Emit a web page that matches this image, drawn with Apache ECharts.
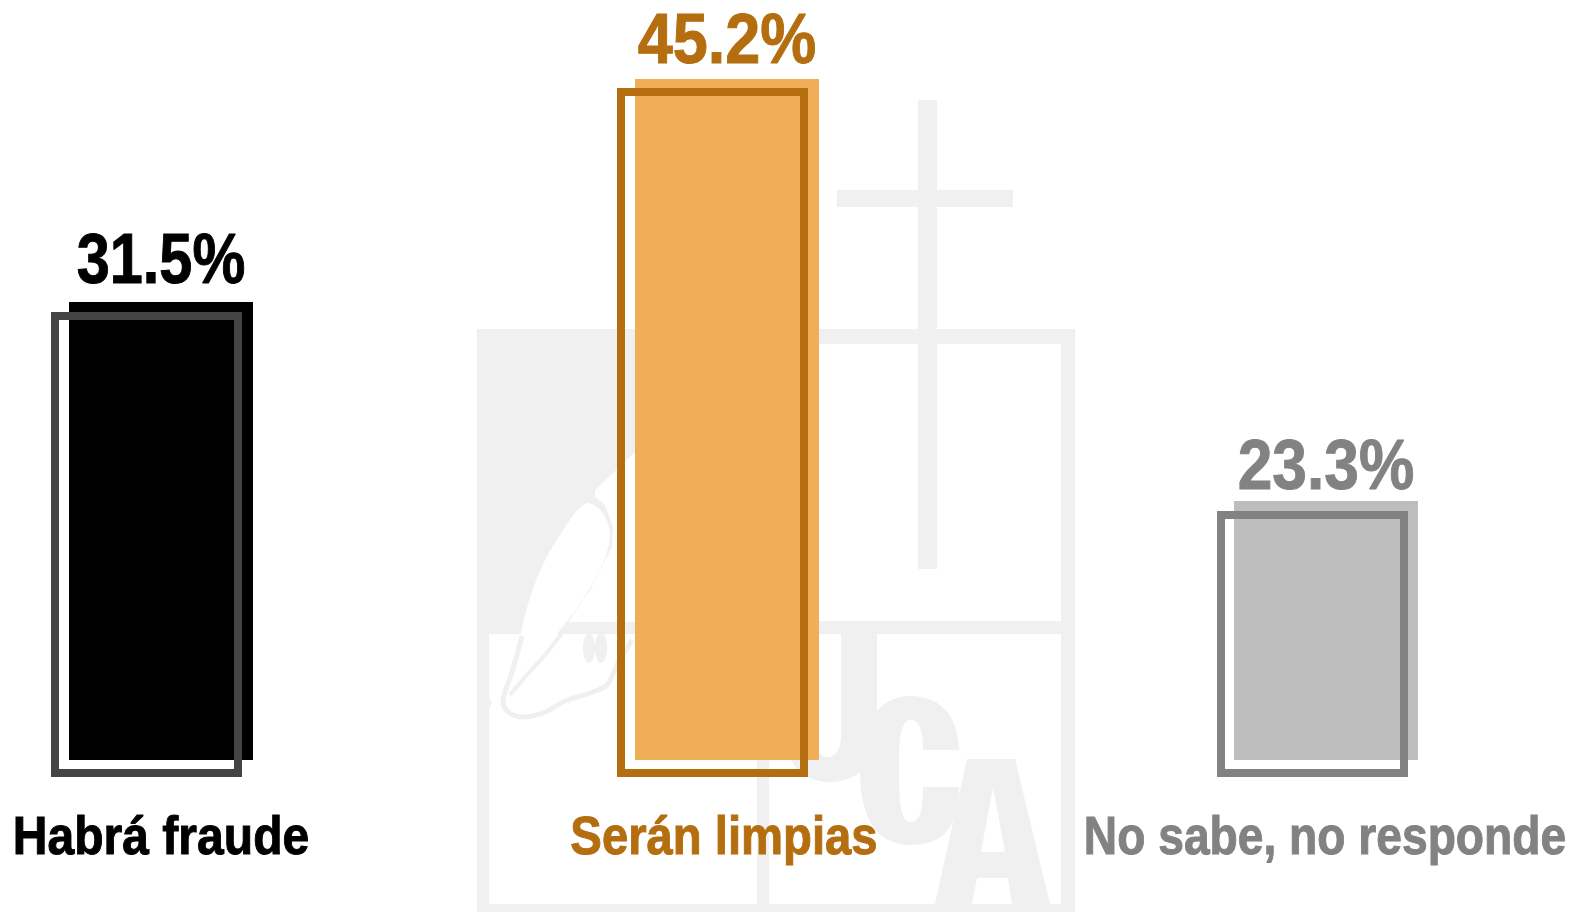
<!DOCTYPE html>
<html lang="es">
<head>
<meta charset="utf-8">
<title>Habrá fraude</title>
<style>html,body{margin:0;padding:0;background:#fff}#chart{width:1572px;height:912px}</style>
<script src="https://cdn.jsdelivr.net/npm/echarts@6/dist/echarts.min.js"></script>
</head>
<body>
<div id="chart"></div>
<script>
// Data
const categories = ['Habrá fraude', 'Serán limpias', 'No sabe, no responde'];
const values = [31.5, 45.2, 23.3];

// Styles
const fillColors = ['#000000', '#f0ae59', '#bdbdbd'];
const strokeColors = ['#444444', '#b46e10', '#828282'];
const textColors = ['#000000', '#b46e10', '#828282'];
const FONT = '"Liberation Sans",Arial,sans-serif';
// The reference face is a condensed bold; it is approximated by squeezing the text.
const valueSqueeze = [0.85, 0.90, 0.89];
const nameSqueeze = [0.89, 0.875, 0.855];

// Layout (bars are not evenly spaced in the reference)
const barCentres = [161, 727, 1326];
const outlineLefts = [-110, -110, -109];
const valueGaps = [3, 0, -4];
const nameOffsets = [0, -3, -1];
const BAR_W = 184, BASE_Y = 760, TOP_Y = 79, PLOT_H = BASE_Y - TOP_Y;
const OUT_W = 191, OUT_TOP = 88, OUT_H = 689, STROKE = 8, NAME_DY = 106;

// The printed percentages and the drawn heights are not proportional in the
// reference; hidden axis breaks reproduce that scale while the data stay true.
const yAxisBase = {
  type: 'value', min: 0, max: 45.2, show: false, splitLine: { show: false },
  breakArea: { show: false }
};
const fillBreaks = [
  { start: 0, end: 23.3, gap: 10.672 },
  { start: 31.5, end: 45.2, gap: 9.189 }
];
const outlineBreaks = [
  { start: 0, end: 23.3, gap: 10.96 },
  { start: 31.5, end: 45.2, gap: 9.23 }
];

const grid = [], xAxis = [], yAxis = [], series = [];
categories.forEach((name, i) => {
  const c = barCentres[i];
  // filled bar
  grid.push({ left: c - BAR_W / 2, width: BAR_W, top: TOP_Y, height: PLOT_H, outerBoundsMode: 'none' });
  xAxis.push({ type: 'category', gridIndex: 2 * i, data: [name], show: false });
  yAxis.push({ ...yAxisBase, breaks: fillBreaks, gridIndex: 2 * i });
  series.push({
    type: 'bar', name, xAxisIndex: 2 * i, yAxisIndex: 2 * i, barWidth: '100%',
    silent: true, z: 2, itemStyle: { color: fillColors[i] },
    data: [values[i]]
  });
  // offset outline
  grid.push({ left: c + outlineLefts[i], width: OUT_W, top: OUT_TOP, height: OUT_H, outerBoundsMode: 'none' });
  xAxis.push({ type: 'category', gridIndex: 2 * i + 1, data: [name], show: false });
  yAxis.push({ ...yAxisBase, breaks: outlineBreaks, gridIndex: 2 * i + 1 });
  series.push({
    type: 'bar', name: name + ' (contorno)', xAxisIndex: 2 * i + 1, yAxisIndex: 2 * i + 1,
    barWidth: '100%', silent: true, clip: false, z: 3,
    itemStyle: { color: 'transparent', borderColor: strokeColors[i], borderWidth: STROKE },
    data: [values[i]]
  });
  // value and category texts, anchored on the bar through the axes
  series.push({
    type: 'custom', name: name + ' (texto)', xAxisIndex: 2 * i, yAxisIndex: 2 * i,
    silent: true, clip: false, z: 4, encode: { x: 0, y: 1 },
    data: [[0, values[i]]],
    renderItem: (params, api) => {
      const top = api.coord([0, api.value(1)]);
      const base = api.coord([0, 0]);
      const text = (x, y, scaleX, content, size) => ({
        type: 'text', x, y, scaleX, silent: true,
        style: {
          text: content, x: 0, y: 0, align: 'center', verticalAlign: 'bottom',
          fill: textColors[i], stroke: textColors[i], lineWidth: 1,
          fontFamily: FONT, fontWeight: 'bold', fontSize: size
        }
      });
      return {
        type: 'group',
        children: [
          text(top[0], top[1] - valueGaps[i], valueSqueeze[i], api.value(1).toFixed(1) + '%', 70),
          text(base[0] + nameOffsets[i], base[1] + NAME_DY, nameSqueeze[i], name, 54)
        ]
      };
    }
  });
});

// Watermark logo
const WM = '#f0f0f0';
const rect = (x, y, w, h, fill = WM) => ({ type: 'rect', z: -1, silent: true, shape: { x, y, width: w, height: h }, style: { fill } });
const poly = (points, fill = WM) => ({ type: 'polygon', z: -1, silent: true, shape: { points }, style: { fill } });
const line = (points, w, smooth = 0.3) => ({ type: 'polyline', z: -1, silent: true, shape: { points, smooth }, style: { stroke: WM, lineWidth: w, fill: 'none' } });
const oval = (cx, cy, rx, ry) => ({ type: 'ellipse', z: -1, silent: true, shape: { cx, cy, rx, ry }, style: { fill: WM } });
const curve = (name, d, fill = WM) => {
  echarts.graphic.registerShape(name, echarts.graphic.extendPath(d, {}));
  return { type: name, z: -1, silent: true, style: { fill } };
};
const watermark = [
  rect(918, 100, 19, 469), rect(837, 190, 176, 17),
  rect(477, 329, 598, 15), rect(477, 329, 12, 583), rect(1061, 329, 14, 583),
  rect(477, 904, 598, 8), rect(489, 621, 572, 13), rect(757, 634, 12, 270),
  rect(477, 329, 170, 305),
  poly([[647, 441], [595, 490], [595, 497], [605, 505], [613, 527], [612, 547], [590, 590], [568, 622], [647, 622]], '#ffffff'),
  curve('wmLobe', 'M588,503 C600,505 610,520 610,535 C610,560 585,600 560,630 C548,645 535,668 523,672 C517,672 517,660 519,645 C525,605 540,565 555,543 C568,522 578,505 588,503 Z', '#ffffff'),
  line([[522, 636], [517, 655], [511, 675], [505, 692], [503, 703], [509, 713], [525, 717], [545, 712], [565, 701], [590, 693], [607, 685], [617, 665], [632, 640]], 5),
  line([[566, 628], [545, 655], [525, 677], [510, 695]], 4, 0.1),
  oval(589, 648, 6, 15), oval(601, 648, 6, 15),
  poly([[486, 703], [489, 698], [492, 703], [489, 708]]),
  curve('wmU', 'M785,634 L785,735 C785,765 805,782 830,782 C860,782 877,760 877,730 L877,634 L841,634 L841,735 C841,750 835,757 828,757 C820,757 815,750 815,735 L815,634 Z'),
  curve('wmC', 'M959,750 C958,715 940,696 910,696 C875,696 860,730 860,770 C860,815 875,845 910,845 C945,845 959,825 959,787 L923,787 C923,810 920,822 911,822 C902,822 899,810 899,770 C899,732 902,720 911,720 C920,720 923,732 923,750 Z'),
  poly([[967, 759], [1015, 759], [1050, 904], [1012, 904], [1008, 878], [977, 878], [972, 904], [935, 904]]),
  poly([[993, 787], [1005, 852], [981, 852]], '#ffffff')
];

const chart = echarts.init(document.getElementById('chart'), null, { renderer: 'canvas' });
chart.setOption({
  animation: false,
  backgroundColor: '#ffffff',
  graphic: { elements: watermark },
  grid, xAxis, yAxis, series
});
</script>
</body>
</html>
